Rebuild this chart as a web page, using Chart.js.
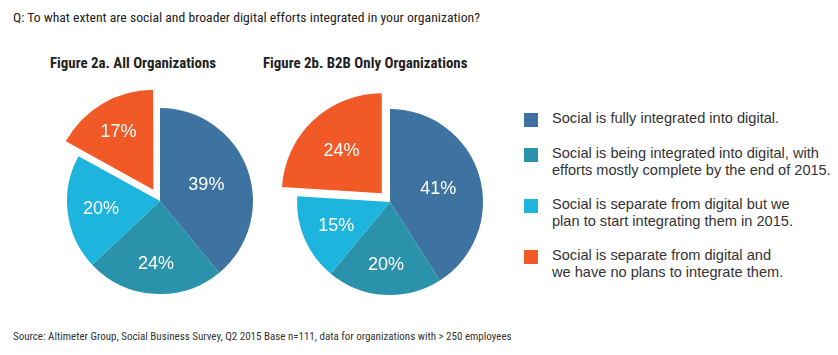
<!DOCTYPE html>
<html>
<head>
<meta charset="utf-8">
<script src="https://cdn.jsdelivr.net/npm/chart.js@4"></script>
<style>
  html, body { margin: 0; padding: 0; background: #fff; }
  body { width: 838px; height: 355px; position: relative; overflow: hidden; }
  .cond { font-family: "Roboto Condensed", "Liberation Sans Narrow", "Arial Narrow", Roboto, sans-serif; }
  #q { position: absolute; left: 13px; top: 9px; font-size: 13.7px; color: #222; }
  .ft { position: absolute; top: 54px; font-size: 14.9px; font-weight: bold; color: #222; }
  #src { position: absolute; left: 13px; top: 330px; font-size: 11px; color: #333; }
  .pie { position: absolute; width: 230px; height: 230px; }
  #legend { position: absolute; left: 524px; top: 110px; font-family: "Liberation Sans", Arial, sans-serif; font-size: 14.6px; color: #333; }
  .li { position: relative; padding-left: 28px; line-height: 17px; white-space: nowrap; }
  .sw { position: absolute; left: 0; top: 3px; width: 14px; height: 14px; }
</style>
</head>
<body>
<div id="q" class="cond">Q: To what extent are social and broader digital efforts integrated in your organization?</div>
<div class="ft cond" style="left:50px">Figure 2a. All Organizations</div>
<div class="ft cond" style="left:263px">Figure 2b. B2B Only Organizations</div>
<div class="pie" style="left:45px; top:86px"><canvas id="c1"></canvas></div>
<div class="pie" style="left:275px; top:87px"><canvas id="c2"></canvas></div>
<div id="legend"></div>
<div id="src" class="cond">Source: Altimeter Group, Social Business Survey, Q2 2015 Base n=111, data for organizations with &gt; 250 employees</div>
<script>
const categories = [
  "Social is fully integrated into digital.",
  "Social is being integrated into digital, with efforts mostly complete by the end of 2015.",
  "Social is separate from digital but we plan to start integrating them in 2015.",
  "Social is separate from digital and we have no plans to integrate them."
];
const legendLines = [
  ["Social is fully integrated into digital."],
  ["Social is being integrated into digital, with", "efforts mostly complete by the end of 2015."],
  ["Social is separate from digital but we", "plan to start integrating them in 2015."],
  ["Social is separate from digital and", "we have no plans to integrate them."]
];
const allOrgs = [39, 24, 20, 17];
const b2bOnly = [41, 20, 15, 24];
const colors = ["#3d72a1", "#2a93ab", "#1db5dd", "#f15a27"];

// legend (HTML)
const lg = document.getElementById('legend');
const gaps = [0, 17.5, 17, 17.5];
legendLines.forEach((lines, i) => {
  const d = document.createElement('div');
  d.className = 'li';
  d.style.marginTop = gaps[i] + 'px';
  d.innerHTML = '<span class="sw" style="background:' + colors[i] + '"></span>' + lines.join('<br>');
  lg.appendChild(d);
});

// the pulled-out slice is drawn with a slightly larger radius in the original
const bigSlicePlugin = {
  id: 'bigSlice',
  afterDatasetUpdate(chart, args, opts) {
    const meta = chart.getDatasetMeta(0);
    const arc = meta.data[opts.index];
    if (arc) arc.outerRadius = opts.radius;
  }
};

const labelPlugin = {
  id: 'sliceLabels',
  afterDatasetsDraw(chart, args, opts) {
    const ctx = chart.ctx;
    const meta = chart.getDatasetMeta(0);
    ctx.save();
    ctx.fillStyle = '#fff';
    ctx.font = '18px "Liberation Sans", Arial, sans-serif';
    ctx.textAlign = 'center';
    ctx.textBaseline = 'middle';
    meta.data.forEach((arc, i) => {
      const p = arc.getProps(['x', 'y', 'startAngle', 'endAngle', 'outerRadius'], true);
      const mid = (p.startAngle + p.endAngle) / 2;
      const off = (arc.options.offset || 0) / 4; // Chart.js v4 translates arcs by offset/4
      const r = opts.fr[i] * p.outerRadius + off;
      const v = chart.data.datasets[0].data[i];
      ctx.fillText(v + '%', p.x + Math.cos(mid) * r, p.y + Math.sin(mid) * r + 1);
    });
    ctx.restore();
  }
};

function makePie(id, data, off, bigR, fr) {
  return new Chart(document.getElementById(id), {
    type: 'pie',
    data: {
      labels: categories,
      datasets: [{
        data: data,
        backgroundColor: colors,
        borderWidth: 0,
        offset: [0, 0, 0, off],
        radius: 93
      }]
    },
    options: {
      responsive: false,
      animation: false,
      events: [],
      layout: { padding: 0 },
      plugins: {
        legend: { display: false },
        tooltip: { enabled: false },
        bigSlice: { index: 3, radius: bigR },
        sliceLabels: { fr: fr }
      }
    },
    plugins: [bigSlicePlugin, labelPlugin]
  });
}
document.getElementById('c1').width = 230; document.getElementById('c1').height = 230;
document.getElementById('c2').width = 230; document.getElementById('c2').height = 230;
makePie('c1', allOrgs, 52, 98.5, [0.53, 0.67, 0.64, 0.695]);
makePie('c2', b2bOnly, 48, 100, [0.54, 0.67, 0.63, 0.59]);
</script>
</body>
</html>
